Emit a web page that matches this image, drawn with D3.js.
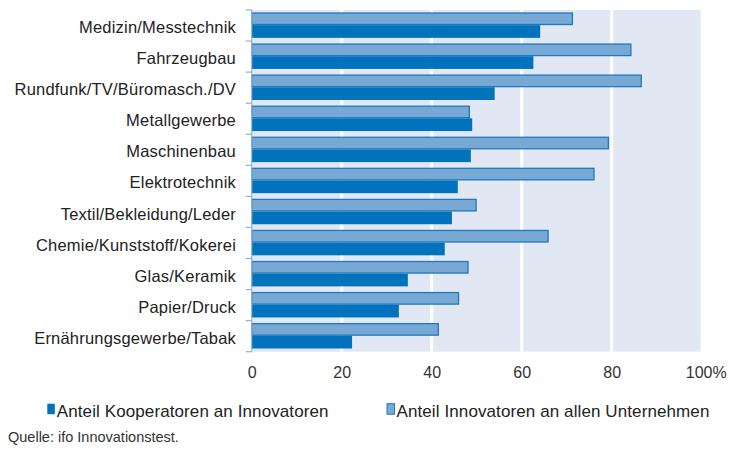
<!DOCTYPE html>
<html><head><meta charset="utf-8">
<script src="https://cdn.jsdelivr.net/npm/d3@7"></script>
<style>body{margin:0;background:#fff}svg{display:block}text{font-family:"Liberation Sans",Arial,sans-serif}</style>
</head><body>
<svg id="c" width="738" height="450"></svg>
<script>
const categories = ["Medizin/Messtechnik","Fahrzeugbau","Rundfunk/TV/Büromasch./DV","Metallgewerbe","Maschinenbau","Elektrotechnik","Textil/Bekleidung/Leder","Chemie/Kunststoff/Kokerei","Glas/Keramik","Papier/Druck","Ernährungsgewerbe/Tabak"];
const innovatoren = [71.4, 84.4, 86.7, 48.5, 79.4, 76.2, 50.0, 66.0, 48.2, 46.1, 41.6];
const kooperatoren = [64.1, 62.6, 54.0, 49.0, 48.7, 45.8, 44.5, 42.9, 34.7, 32.7, 22.3];
const tickValues = [0, 20, 40, 60, 80, 100];
const tickLabels = ["0", "20", "40", "60", "80", "100%"];
const seriesNames = ["Anteil Kooperatoren an Innovatoren", "Anteil Innovatoren an allen Unternehmen"];

const svg = d3.select("#c");
const x = d3.scaleLinear().domain([0, 100]).range([251.7, 701.7]);
const y = d3.scaleBand().domain(categories).range([10, 351.7]).paddingInner(0).paddingOuter(0);
const sub = d3.scaleBand().domain(["inn", "koop"]).range([2.4, y.bandwidth() - 3.2]);

svg.append("rect").attr("x", x(0)).attr("y", 10).attr("width", x(100) - x(0) - 1).attr("height", 351.7 - 10).attr("fill", "#e1e8f4");

svg.append("g").selectAll("line").data([20, 40, 60, 80]).join("line")
  .attr("x1", d => x(d)).attr("x2", d => x(d)).attr("y1", 10).attr("y2", 351.7)
  .attr("stroke", "#fff").attr("stroke-width", 3);

const g = svg.append("g").selectAll("g").data(categories).join("g")
  .attr("transform", d => `translate(0,${y(d)})`);

g.append("rect").attr("x", x(0)).attr("y", sub("inn") + 0.6)
  .attr("width", (d, i) => x(innovatoren[i]) - x(0) - 0.6).attr("height", sub.bandwidth() - 1.2)
  .attr("fill", "#78a9d5").attr("stroke", "#1f78c0").attr("stroke-width", 1.3);

g.append("rect").attr("x", x(0)).attr("y", sub("koop"))
  .attr("width", (d, i) => x(kooperatoren[i]) - x(0)).attr("height", sub.bandwidth())
  .attr("fill", "#0073bc");

// left axis
svg.append("line").attr("x1", x(0)).attr("x2", x(0)).attr("y1", 10).attr("y2", 351.7).attr("stroke", "#8db2dd").attr("stroke-width", 1.2);
const bounds = categories.map(c => y(c)).concat([351.7]);
svg.append("g").selectAll("line").data(bounds).join("line")
  .attr("x1", x(0) - 6).attr("x2", x(0)).attr("y1", d => d).attr("y2", d => d)
  .attr("stroke", "#8db2dd").attr("stroke-width", 1.2);

svg.append("g").selectAll("text").data(categories).join("text")
  .attr("x", 236).attr("y", d => y(d) + y.bandwidth() / 2 + 7.6)
  .attr("text-anchor", "end").attr("font-size", 16.5).attr("letter-spacing", 0.2).attr("fill", "#222").text(d => d);

const xAxis = d3.axisBottom(x).tickValues(tickValues).tickFormat((d, i) => tickLabels[i]).tickSize(0).tickPadding(0);
const ax = svg.append("g").attr("transform", "translate(0,378.3)").call(xAxis);
ax.select(".domain").remove();
ax.selectAll("text").attr("font-size", 16).attr("fill", "#333").attr("dy", 0).attr("y", 0)
  .attr("font-family", "'Liberation Sans',Arial,sans-serif");
ax.selectAll("text").filter((d, i) => i === 5).attr("dx", 4);

// legend
const legX = [47.3, 387];
const lg = svg.append("g").selectAll("g").data(seriesNames).join("g")
  .attr("transform", (d, i) => `translate(${legX[i]},403.7)`);
lg.append("rect").attr("width", 7.5).attr("height", 10.5).attr("y", 0)
  .attr("fill", (d, i) => i === 0 ? "#0073bc" : "#78a9d5")
  .attr("stroke", (d, i) => i === 0 ? "none" : "#1f78c0").attr("stroke-width", 1);
lg.append("text").attr("x", 9.5).attr("y", 13.3).attr("font-size", 17).attr("letter-spacing", 0.1).attr("fill", "#222").text(d => d);

svg.append("text").attr("x", 8).attr("y", 441.7).attr("font-size", 14.5).attr("fill", "#333").text("Quelle: ifo Innovationstest.");
</script>
</body></html>
